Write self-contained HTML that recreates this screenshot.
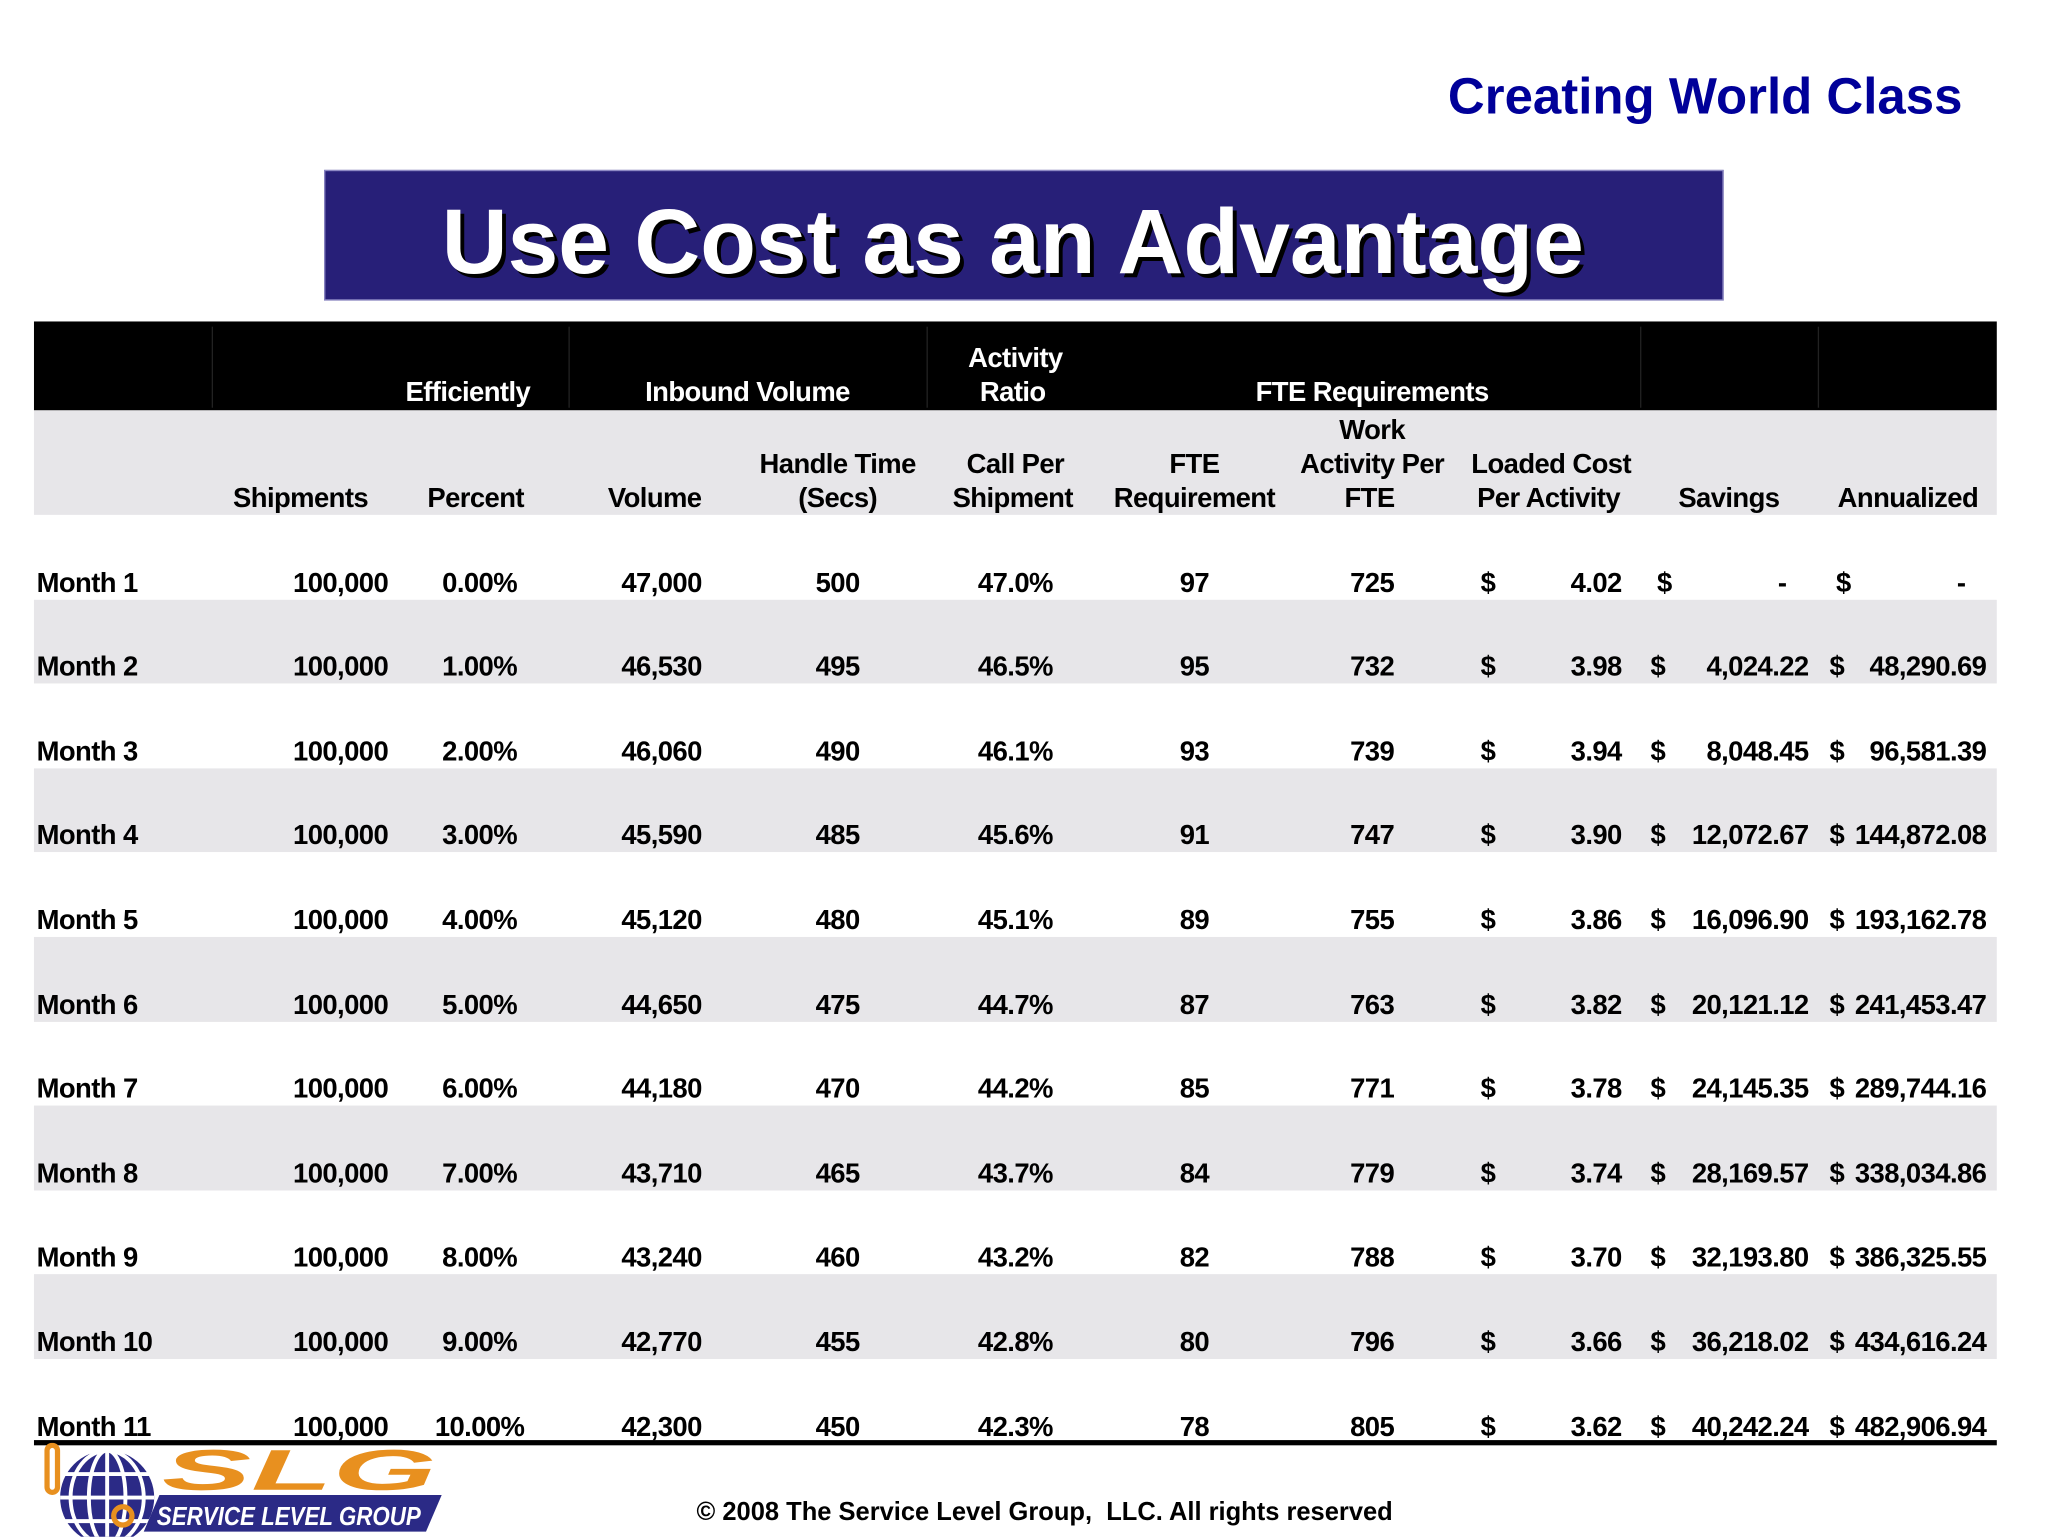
<!DOCTYPE html>
<html><head><meta charset="utf-8"><style>
html,body{margin:0;padding:0;background:#fff;}
body{width:2048px;height:1536px;overflow:hidden;position:relative;}
#stage{position:absolute;left:0;top:0;width:1567px;height:1176px;transform:scale(1.3068);transform-origin:0 0;font-family:"Liberation Sans",Arial,sans-serif;font-weight:bold;color:#000;}
.a{position:absolute;white-space:nowrap;}
.c{font-size:21px;line-height:24px;height:24px;letter-spacing:-0.45px;}
</style></head><body>
<div id="stage">
  <div class="a" style="left:1108px;top:53px;font-size:39px;line-height:44px;color:#000099;letter-spacing:0px;">Creating World Class</div>
  <div class="a" style="left:248px;top:130px;width:1071px;height:100px;background:#271f78;border:1px solid #8d89c4;box-sizing:border-box;"></div>
  <svg class="a" style="left:248px;top:130px" width="1071" height="100">
    <text x="530" y="82" text-anchor="middle" font-family="Liberation Sans, Arial, sans-serif" font-weight="bold" font-size="70" fill="#000" textLength="874" lengthAdjust="spacingAndGlyphs">Use Cost as an Advantage</text>
    <text x="527" y="79" text-anchor="middle" font-family="Liberation Sans, Arial, sans-serif" font-weight="bold" font-size="70" fill="#fff" textLength="874" lengthAdjust="spacingAndGlyphs">Use Cost as an Advantage</text>
  </svg>
  <div class="a" style="left:26px;top:246px;width:1502px;height:68px;background:#000;"></div>
  <div class="a" style="left:26px;top:314px;width:1502px;height:80px;background:#e7e6e9;"></div>
  <div id="table"></div>
  <div class="a" style="left:26px;top:1102px;width:1502px;height:4px;background:#000;"></div>
  <svg class="a" style="left:26px;top:1104px" width="320" height="72" viewBox="0 0 320 72">
    <circle cx="56" cy="42" r="36" fill="#2b2a86"/>
    <g stroke="#fff" stroke-width="3" fill="none">
      <ellipse cx="56" cy="42" rx="14" ry="36"/><ellipse cx="56" cy="42" rx="28" ry="36"/>
      <line x1="56" y1="6" x2="56" y2="78"/><line x1="20" y1="24" x2="92" y2="24"/><line x1="20" y1="42" x2="92" y2="42"/><line x1="20" y1="60" x2="92" y2="60"/>
    </g>
    <rect x="10" y="2" width="8" height="36" rx="4" fill="none" stroke="#e8901f" stroke-width="4"/>
    <circle cx="68" cy="56" r="7" fill="none" stroke="#e8901f" stroke-width="4"/>
    <text x="98" y="36" font-family="Liberation Sans, Arial, sans-serif" font-weight="bold" font-style="italic" font-size="44" fill="#e8901f" textLength="210" lengthAdjust="spacingAndGlyphs">SLG</text>
    <polygon points="96,40 312,40 300,68 84,68" fill="#2b2a86"/>
    <text x="94" y="63" font-family="Liberation Sans, Arial, sans-serif" font-weight="bold" font-style="italic" font-size="20" fill="#fff" textLength="202" lengthAdjust="spacingAndGlyphs">SERVICE LEVEL GROUP</text>
  </svg>
  <div class="a" style="left:533px;top:1145px;font-size:19.5px;line-height:24px;">© 2008 The Service Level Group,&nbsp; LLC. All rights reserved</div>
</div>
<script>
const months = ["Month 1","Month 2","Month 3","Month 4","Month 5","Month 6","Month 7","Month 8","Month 9","Month 10","Month 11"];
const shipments = ["100,000","100,000","100,000","100,000","100,000","100,000","100,000","100,000","100,000","100,000","100,000"];
const percents = ["0.00%","1.00%","2.00%","3.00%","4.00%","5.00%","6.00%","7.00%","8.00%","9.00%","10.00%"];
const volumes = ["47,000","46,530","46,060","45,590","45,120","44,650","44,180","43,710","43,240","42,770","42,300"];
const handleTimes = ["500","495","490","485","480","475","470","465","460","455","450"];
const callRatios = ["47.0%","46.5%","46.1%","45.6%","45.1%","44.7%","44.2%","43.7%","43.2%","42.8%","42.3%"];
const fteReqs = ["97","95","93","91","89","87","85","84","82","80","78"];
const workPerFte = ["725","732","739","747","755","763","771","779","788","796","805"];
const loadedCosts = ["4.02","3.98","3.94","3.90","3.86","3.82","3.78","3.74","3.70","3.66","3.62"];
const savings = ["-","4,024.22","8,048.45","12,072.67","16,096.90","20,121.12","24,145.35","28,169.57","32,193.80","36,218.02","40,242.24"];
const annualized = ["-","48,290.69","96,581.39","144,872.08","193,162.78","241,453.47","289,744.16","338,034.86","386,325.55","434,616.24","482,906.94"];

const stage = document.getElementById('table');
function put(text, x, y, align, name, color) {
  const d = document.createElement('div');
  d.className = 'a c';
  
  
  d.textContent = text;
  d.style.top = y + 'px';
  if (color) d.style.color = color;
  if (align === 'r') { d.style.right = (1567 - x) + 'px'; d.style.textAlign = 'right'; }
  else if (align === 'c') { d.style.left = (x - 150) + 'px'; d.style.width = '300px'; d.style.textAlign = 'center'; }
  else d.style.left = x + 'px';
  stage.appendChild(d);
}
[162,435,709,1255,1391].forEach(function(x){
  const l = document.createElement('div');
  l.className = 'a';
  
  
  l.style.cssText = 'left:' + x + 'px;top:250px;width:1px;height:62px;background:#222;';
  stage.appendChild(l);
});
put("Efficiently", 358, 289, 'c', 'group-header-efficiently', '#fff');
put("Inbound Volume", 572, 289, 'c', 'group-header-inbound-volume', '#fff');
put("Activity", 777, 263, 'c', 'group-header-activity', '#fff');
put("Ratio", 775, 289, 'c', 'group-header-ratio', '#fff');
put("FTE Requirements", 1050, 289, 'c', 'group-header-fte-requirements', '#fff');
const L1 = 318, L2 = 344, L3 = 370;
put("Shipments", 230, L3, 'c', 'col-header-shipments');
put("Percent", 364, L3, 'c', 'col-header-percent');
put("Volume", 501, L3, 'c', 'col-header-volume');
put("Handle Time", 641, L2, 'c', 'col-header-handle-time');
put("(Secs)", 641, L3, 'c', 'col-header-handle-time-secs');
put("Call Per", 777, L2, 'c', 'col-header-call-per');
put("Shipment", 775, L3, 'c', 'col-header-shipment');
put("FTE", 914, L2, 'c', 'col-header-fte');
put("Requirement", 914, L3, 'c', 'col-header-requirement');
put("Work", 1050, L1, 'c', 'col-header-work');
put("Activity Per", 1050, L2, 'c', 'col-header-activity-per');
put("FTE", 1048, L3, 'c', 'col-header-fte-2');
put("Loaded Cost", 1187, L2, 'c', 'col-header-loaded-cost');
put("Per Activity", 1185, L3, 'c', 'col-header-per-activity');
put("Savings", 1323, L3, 'c', 'col-header-savings');
put("Annualized", 1460, L3, 'c', 'col-header-annualized');
const rowH = 64.6, rowTop0 = 394;
months.forEach(function(m, i){
  const top = rowTop0 + i * rowH;
  if (i % 2 === 1) {
    const b = document.createElement('div');
    b.className = 'a';
    
    
    b.style.cssText = 'left:26px;top:' + top + 'px;width:1502px;height:' + rowH + 'px;background:#e7e6e9;';
    stage.appendChild(b);
  }
  const y = top + rowH - 24;
  put(m, 28, y, 'l', 'row-month');
  put(shipments[i], 297, y, 'r', 'cell-shipments');
  put(percents[i], 367, y, 'c', 'cell-percent');
  put(volumes[i], 537, y, 'r', 'cell-volume');
  put(handleTimes[i], 641, y, 'c', 'cell-handle-time');
  put(callRatios[i], 777, y, 'c', 'cell-call-ratio');
  put(fteReqs[i], 914, y, 'c', 'cell-fte-requirement');
  put(workPerFte[i], 1050, y, 'c', 'cell-work-per-fte');
  put("$", 1133, y, 'l', 'cell-cost-currency');
  put(loadedCosts[i], 1241, y, 'r', 'cell-loaded-cost');
  put("$", savings[i] === '-' ? 1268 : 1263, y, 'l', 'cell-savings-currency');
  put(savings[i], savings[i] === '-' ? 1367 : 1384, y, 'r', 'cell-savings');
  put("$", annualized[i] === '-' ? 1405 : 1400, y, 'l', 'cell-annualized-currency');
  put(annualized[i], annualized[i] === '-' ? 1504 : 1520, y, 'r', 'cell-annualized');
});
</script>
</body></html>
